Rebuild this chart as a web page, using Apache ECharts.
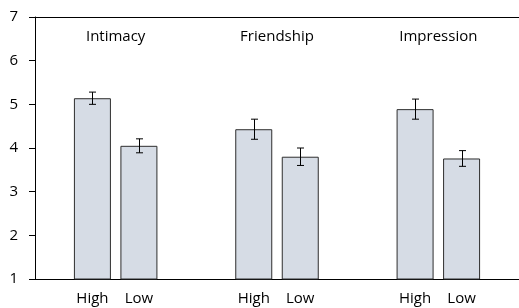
<!DOCTYPE html>
<html>
<head>
<meta charset="utf-8">
<script src="https://cdn.jsdelivr.net/npm/echarts@6/dist/echarts.min.js"></script>
<style>
  html, body { margin: 0; padding: 0; background: #fff; }
  #chart { width: 519px; height: 308px; }
</style>
</head>
<body>
<div id="chart"></div>
<script>
const categories = ['Intimacy', 'Friendship', 'Impression']
const highValues = [5.14, 4.43, 4.89]
const lowValues = [4.05, 3.80, 3.76]
const highErrors = [0.14, 0.23, 0.23]
const lowErrors = [0.16, 0.20, 0.18]
const yTicks = [1, 2, 3, 4, 5, 6, 7]

const barWidth = 37
const barGapPx = 9.5
const font = '"Open Sans", "Liberation Sans", sans-serif'

const chart = echarts.init(document.getElementById('chart'))

// error bars drawn at the centre of each bar of the group
function errorSeries(values, errors, side) {
  return {
    type: 'custom',
    xAxisIndex: 0,
    z: 10,
    silent: true,
    data: values.map((v, i) => [i, v - errors[i], v + errors[i]]),
    renderItem(params, api) {
      const shift = side * (barWidth + barGapPx) / 2
      const lo = api.coord([api.value(0), api.value(1)])
      const hi = api.coord([api.value(0), api.value(2)])
      const x = Math.round(lo[0] + shift) + 0.5
      const cap = 3.5
      const style = { stroke: '#000', lineWidth: 1 }
      return {
        type: 'group',
        children: [
          { type: 'line', shape: { x1: x, y1: lo[1], x2: x, y2: hi[1] }, style },
          { type: 'line', shape: { x1: x - cap, y1: lo[1], x2: x + cap, y2: lo[1] }, style },
          { type: 'line', shape: { x1: x - cap, y1: hi[1], x2: x + cap, y2: hi[1] }, style }
        ]
      }
    }
  }
}

const barLabel = {
  show: true,
  formatter: '{a}',
  position: ['50%', '100%'],
  align: 'center',
  verticalAlign: 'middle',
  offset: [0, 19],
  color: '#000',
  fontFamily: font,
  fontSize: 15
}

const barStyle = { color: '#d6dce5', borderColor: '#2e2e2e', borderWidth: 1 }

chart.setOption({
  animation: false,
  grid: { left: 35, top: 17, width: 487, height: 262 },
  xAxis: [{
    type: 'category',
    data: categories,
    position: 'bottom',
    axisLine: { lineStyle: { color: '#000', width: 1 } },
    axisTick: { show: false },
    axisLabel: { show: false }
  }, {
    type: 'category',
    data: categories,
    position: 'top',
    axisLine: { lineStyle: { color: '#000', width: 1 } },
    axisTick: { show: false },
    axisLabel: { inside: true, margin: 12, color: '#000', fontFamily: font, fontSize: 15 }
  }],
  yAxis: {
    type: 'value',
    min: yTicks[0],
    max: yTicks[yTicks.length - 1],
    interval: 1,
    axisLine: { show: true, lineStyle: { color: '#000', width: 1 } },
    axisTick: { show: true, length: 6, lineStyle: { color: '#000' } },
    axisLabel: { margin: 17, color: '#000', fontFamily: font, fontSize: 15 },
    splitLine: { show: false }
  },
  series: [{
    name: 'High',
    type: 'bar',
    barWidth: barWidth,
    barGap: (barGapPx / barWidth * 100) + '%',
    data: highValues,
    itemStyle: barStyle,
    label: barLabel
  }, {
    name: 'Low',
    type: 'bar',
    barWidth: barWidth,
    data: lowValues,
    itemStyle: barStyle,
    label: barLabel
  },
  errorSeries(highValues, highErrors, -1),
  errorSeries(lowValues, lowErrors, 1)
  ]
})
</script>
</body>
</html>
